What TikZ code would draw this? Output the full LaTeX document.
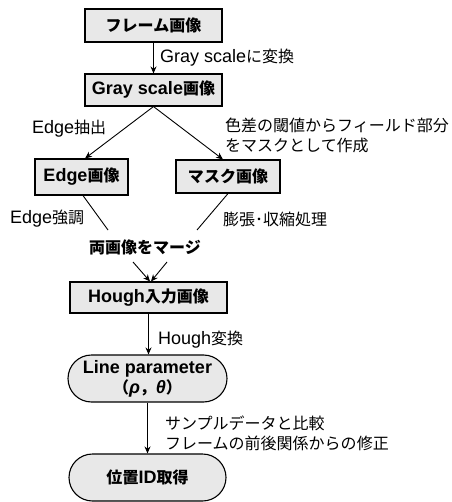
\documentclass[tikz,border=0pt]{standalone}
\usepackage{fontspec}
\setmainfont{Liberation Sans}
\newfontfamily\jp[Scale=0.889]{Noto Sans CJK JP}
\usetikzlibrary{shapes.misc,arrows.meta}
\begin{document}
\begin{tikzpicture}[x=1pt,y=-1pt,
  font=\fontsize{18}{20}\selectfont,
  boxbase/.style={draw,line width=1.1pt,fill=black!9,inner sep=0pt,align=center,
    font=\fontsize{18}{20}\selectfont\bfseries},
  box/.style={boxbase,rectangle},
  pill/.style={boxbase,rounded rectangle},
  arr/.style={line width=0.9pt,-{Stealth[length=7pt,width=6pt]}},
  ln/.style={line width=0.9pt},
  lbl/.style={anchor=west,inner sep=0pt,align=left}]
\useasboundingbox (0,0) rectangle (451,502);

% boxes
\node[box,minimum width=137pt,minimum height=33pt] (f) at (153.5,25.5) {{\jp フレーム画像}};
\node[box,minimum width=137pt,minimum height=32pt] (g) at (153.5,90) {Gray scale{\jp 画像}};
\node[box,minimum width=93pt,minimum height=36pt] (e) at (81.5,177) {Edge{\jp 画像}};
\node[box,minimum width=104pt,minimum height=33pt] (m) at (228,176.5) {{\jp マスク画像}};
\node[inner sep=0pt,font=\fontsize{18}{20}\selectfont\bfseries] (mg) at (145,247) {{\jp 両画像をマージ}};
\node[box,minimum width=157pt,minimum height=31pt] (h) at (148.5,297.5) {Hough{\jp 入力画像}};
\node[pill,minimum width=159pt,minimum height=47pt] (lp) at (147.5,378.5)
  {Line parameter\\{\jp （}{\itshape ρ}{\jp ，}{\itshape θ}{\jp ）}};
\node[pill,minimum width=157pt,minimum height=47pt] (pos) at (147.5,477.5) {{\jp 位置}ID{\jp 取得}};

% free ends
\coordinate (e2) at (108,230);
\coordinate (m2) at (197,230);
\coordinate (a1) at (133,262);
\coordinate (a2) at (167,262);

% connectors
\draw[arr] (f.south) -- (g.north);
\draw[arr] (g.south) -- ([xshift=3.5pt]e.north);
\draw[arr] (g.south) -- ([xshift=-5pt]m.north);
\draw[ln] ([xshift=1.5pt]e.south) -- (e2);
\draw[ln] (m.south) -- (m2);
\draw[arr] (a1) -- ([xshift=1.5pt]h.north);
\draw[arr] (a2) -- ([xshift=2.5pt]h.north);
\draw[arr] (h.south) -- (h.south |- lp.north);
\draw[arr] (lp.south) -- (lp.south |- pos.north);

% labels
\node[lbl] (l1) at (160,58) {Gray scale{\jp に変換}};
\node[lbl] (l2) at (32,129) {Edge{\jp 抽出}};
\node[lbl] (l3) at (225,135.5) {{\jp 色差の閾値からフィールド部分}\\{\jp をマスクとして作成}};
\node[lbl] (l4) at (10,219) {Edge{\jp 強調}};
\node[lbl] (l5) at (223,219) {{\jp 膨張･収縮処理}};
\node[lbl] (l6) at (158,340) {Hough{\jp 変換}};
\node[lbl] (l7) at (165,433.5) {{\jp サンプルデータと比較}\\{\jp フレームの前後関係からの修正}};
\end{tikzpicture}
\end{document}
